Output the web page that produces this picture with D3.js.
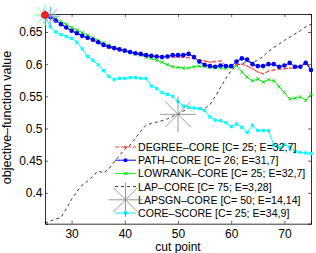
<!DOCTYPE html>
<html>
<head>
<meta charset="utf-8">
<script src="https://cdn.jsdelivr.net/npm/d3@7"></script>
<style>
  body { margin: 0; background: #fff; }
  text { font-family: "Liberation Sans", Arial, sans-serif; }
</style>
</head>
<body>
<svg id="chart" width="316" height="253"></svg>
<script>
var w = 316
var h = 253
var margin = {left: 45, right: 5, top: 14, bottom: 30}

// cut points
var cuts = d3.range(25, 76)

// objective values, one per cut point
var degree = [0.675,0.672,0.668,0.662,0.657,0.652,0.648,0.644,0.640,0.637,0.633,0.629,0.626,0.624,0.622,0.620,0.618,0.616,0.615,0.613,0.612,0.611,0.610,0.611,0.611,0.611,0.611,0.610,0.609,0.607,0.605,0.603,0.604,0.605,0.598,0.597,0.600,0.600,0.597,0.593,0.588,0.585,0.589,0.591,0.592,0.593,0.594,0.594,0.597,0.604,0.593]
var path = [0.675,0.673,0.668,0.662,0.657,0.652,0.648,0.644,0.641,0.638,0.634,0.630,0.627,0.625,0.623,0.621,0.619,0.617,0.616,0.614,0.613,0.612,0.611,0.612,0.614,0.614,0.614,0.616,0.611,0.604,0.599,0.597,0.596,0.598,0.597,0.597,0.604,0.609,0.607,0.600,0.597,0.597,0.600,0.600,0.596,0.598,0.602,0.596,0.596,0.602,0.591]
var lowrank = [0.675,0.674,0.671,0.666,0.662,0.657,0.653,0.649,0.645,0.641,0.637,0.633,0.629,0.626,0.623,0.621,0.618,0.616,0.614,0.611,0.609,0.606,0.603,0.599,0.596,0.595,0.594,0.594,0.596,0.597,0.596,0.595,0.595,0.594,0.594,0.595,0.598,0.588,0.580,0.574,0.577,0.572,0.576,0.574,0.565,0.556,0.546,0.547,0.549,0.544,0.553]
var lap = [0.353,0.356,0.359,0.362,0.375,0.390,0.402,0.412,0.418,0.426,0.434,0.431,0.437,0.448,0.458,0.468,0.474,0.485,0.496,0.505,0.508,0.510,0.512,0.515,0.519,0.522,0.527,0.532,0.531,0.530,0.531,0.537,0.550,0.564,0.578,0.590,0.598,0.601,0.603,0.603,0.606,0.612,0.620,0.626,0.631,0.637,0.642,0.647,0.652,0.658,0.662]
var coreScore = [0.675,0.658,0.650,0.646,0.643,0.640,0.634,0.624,0.612,0.606,0.599,0.590,0.581,0.576,0.578,0.578,0.579,0.579,0.578,0.578,0.566,0.562,0.556,0.553,0.550,0.542,0.535,0.533,0.532,0.531,0.528,0.518,0.513,0.512,0.509,0.503,0.507,0.502,0.494,0.505,0.497,0.497,0.497,0.474,0.471,0.475,0.471,0.464,0.463,0.462,0.461]

// chosen cut point of LAPSGN (only drawn as a marker)
var lapsgnPoint = [50, 0.522]

var legendLabels = [
    "DEGREE–CORE [C= 25; E=32,7]",
    "PATH–CORE [C= 26; E=31,7]",
    "LOWRANK–CORE [C= 25; E=32,7]",
    "LAP–CORE [C= 75; E=3,28]",
    "LAPSGN–CORE [C= 50; E=14,14]",
    "CORE–SCORE [C= 25; E=34,9]"
]
var xTicks = [30, 40, 50, 60, 70]
var yTicks = [0.4, 0.45, 0.5, 0.55, 0.6, 0.65]

var svg = d3.select("#chart")

var x = d3.scaleLinear().domain([25, 75]).range([margin.left, w - margin.right])
var y = d3.scaleLinear().domain([0.352, 0.678]).range([h - margin.bottom + 0.7, margin.top])

var x0 = x.range()[0], x1 = x.range()[1]
var y0 = y.range()[0], y1 = y.range()[1]

// axes (matlab style: ticks inside, box all round)
svg.append("g").attr("transform", "translate(0," + y0 + ")")
    .call(d3.axisBottom(x).tickValues(xTicks).tickSize(-3).tickPadding(5.5).tickFormat(d3.format("d")))
svg.append("g").attr("transform", "translate(0," + y1 + ")")
    .call(d3.axisTop(x).tickValues(xTicks).tickSize(-3).tickFormat(""))
svg.append("g").attr("transform", "translate(" + x0 + ",0)")
    .call(d3.axisLeft(y).tickValues(yTicks).tickSize(-3).tickPadding(2.5).tickFormat(function(d){ return String(d) }))
svg.append("g").attr("transform", "translate(" + x1 + ",0)")
    .call(d3.axisRight(y).tickValues(yTicks).tickSize(-3).tickFormat(""))
svg.selectAll(".domain").attr("stroke", "#000").attr("stroke-width", 0.8)
svg.selectAll(".tick line").attr("stroke", "#000").attr("stroke-width", 0.6)
svg.selectAll(".tick text").attr("font-size", 12).attr("fill", "#000")
    .attr("font-family", "Liberation Sans, Arial, sans-serif")

svg.append("text").text("cut point")
    .attr("x", (x0 + x1) / 2).attr("y", 250.5)
    .attr("text-anchor", "middle").attr("font-size", 12)
svg.append("text").text("objective–function value")
    .attr("transform", "translate(11,117.5) rotate(-90)")
    .attr("text-anchor", "middle").attr("font-size", 12.5)

var plot = svg.append("g")

function series(vals, color, width, dash){
    var line = d3.line().x(function(d, i){ return x(cuts[i]) }).y(function(d){ return y(d) })
    plot.append("path").datum(vals)
        .attr("fill", "none").attr("stroke", color).attr("stroke-width", width)
        .attr("stroke-dasharray", dash).attr("d", line)
}

function asterisk(g, cx, cy, r, color, width){
    for(var a = 0; a < 4; a++){
        var ang = a * Math.PI / 4
        g.append("line")
            .attr("x1", cx - r * Math.cos(ang)).attr("y1", cy - r * Math.sin(ang))
            .attr("x2", cx + r * Math.cos(ang)).attr("y2", cy + r * Math.sin(ang))
            .attr("stroke", color).attr("stroke-width", width)
    }
}

function crossMark(g, cx, cy, r, color){
    g.append("path")
        .attr("d", "M" + (cx - r) + "," + (cy - r) + "L" + (cx + r) + "," + (cy + r) +
                   "M" + (cx - r) + "," + (cy + r) + "L" + (cx + r) + "," + (cy - r))
        .attr("stroke", color).attr("stroke-width", 0.8)
}

// LAP-CORE
series(lap, "#000", 0.8, "3,3")

// CORE-SCORE
series(coreScore, "#00ffff", 1, null)
plot.selectAll("rect.cs").data(coreScore).enter().append("rect").attr("class", "cs")
    .attr("x", function(d, i){ return x(cuts[i]) - 1.6 }).attr("y", function(d){ return y(d) - 1.6 })
    .attr("width", 3.2).attr("height", 3.2).attr("fill", "#00ffff")

// LOWRANK-CORE
series(lowrank, "#00ff00", 1, null)
lowrank.forEach(function(d, i){ crossMark(plot, x(cuts[i]), y(d), 1.7, "#00cc00") })

// DEGREE-CORE
series(degree, "#ff0000", 0.9, "4,2.5")
degree.forEach(function(d, i){
    plot.append("circle").attr("cx", x(cuts[i])).attr("cy", y(d)).attr("r", 1)
        .attr("fill", "#ff6060")
})

// PATH-CORE
series(path, "#0000ff", 1, null)
plot.selectAll("circle.pc").data(path).enter().append("circle").attr("class", "pc")
    .attr("cx", function(d, i){ return x(cuts[i]) }).attr("cy", function(d){ return y(d) })
    .attr("r", 2.3).attr("fill", "#0000ff")

// chosen cut points
asterisk(plot, x(25), y(lowrank[0]) - 1, 11, "#66ff66", 0.8)
asterisk(plot, x(25) + 1, y(coreScore[0]), 10, "#99ffff", 0.8)
asterisk(plot, x(26), y(path[1]) - 1, 10, "#8080ff", 0.8)
plot.append("circle").attr("cx", x(25)).attr("cy", y(degree[0]) - 1).attr("r", 3.5)
    .attr("fill", "#ff2020").attr("stroke", "#c00000").attr("stroke-width", 0.6)
asterisk(plot, x(lapsgnPoint[0]), y(lapsgnPoint[1]), 18, "#808080", 0.8)

// legend (no box, transparent)
var lg = svg.append("g")
var lx = 115, lx2 = 136, ly = 147, step = 13.2
legendLabels.forEach(function(t, i){
    lg.append("text").text(t).attr("x", 138).attr("y", ly + i * step + 3.9)
        .attr("font-size", 10.6)
})
var mid = (lx + lx2) / 2
lg.append("line").attr("x1", lx).attr("x2", lx2).attr("y1", ly).attr("y2", ly)
    .attr("stroke", "#ff8080").attr("stroke-width", 1.6).attr("stroke-dasharray", "4,2")
lg.append("circle").attr("cx", mid).attr("cy", ly).attr("r", 1.2).attr("fill", "#ff4040")
lg.append("line").attr("x1", lx).attr("x2", lx2).attr("y1", ly + step).attr("y2", ly + step)
    .attr("stroke", "#0000ff").attr("stroke-width", 1)
lg.append("circle").attr("cx", mid).attr("cy", ly + step).attr("r", 2).attr("fill", "#0000ff")
lg.append("line").attr("x1", lx).attr("x2", lx2).attr("y1", ly + 2 * step).attr("y2", ly + 2 * step)
    .attr("stroke", "#00ff00").attr("stroke-width", 1)
crossMark(lg, mid, ly + 2 * step, 1.7, "#00cc00")
lg.append("line").attr("x1", lx).attr("x2", lx2).attr("y1", ly + 3 * step).attr("y2", ly + 3 * step)
    .attr("stroke", "#000").attr("stroke-width", 0.8).attr("stroke-dasharray", "3,3")
asterisk(lg, mid, ly + 4 * step, 17, "#808080", 0.8)
lg.append("line").attr("x1", lx).attr("x2", lx2).attr("y1", ly + 5 * step).attr("y2", ly + 5 * step)
    .attr("stroke", "#80ffff").attr("stroke-width", 2)
lg.append("rect").attr("x", mid - 1.6).attr("y", ly + 5 * step - 1.6).attr("width", 3.2).attr("height", 3.2)
    .attr("fill", "#00e0e0")
</script>
</body>
</html>
